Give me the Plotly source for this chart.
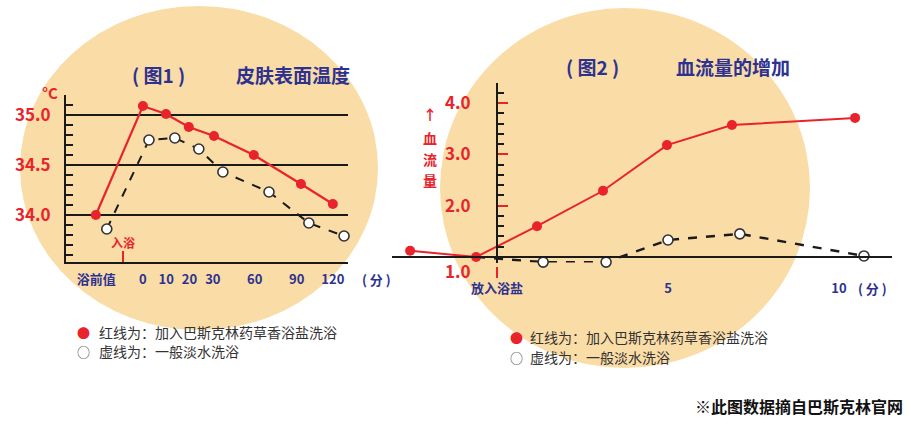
import plotly.graph_objects as go

W, H = 911, 427
RED = "#e8232b"
NAVY = "#2d3190"
BEIGE = "#fadca6"
FONT = "Noto Sans CJK SC"

# ---------------- data: chart 1 (skin surface temperature) ----------------
temp_tick_pos = [-2.0, 0.0, 1.0, 2.0, 3.0, 4.8, 6.6, 8.15]
temp_tick_labels = ["浴前值", "0", "10", "20", "30", "60", "90", "120"]
temp_red_x = [-2.02, 0.0, 0.99, 1.97, 3.05, 4.76, 6.78, 8.15]
temp_red_y = [34.0, 35.09, 35.01, 34.88, 34.79, 34.60, 34.31, 34.11]
temp_white_x = [-1.55, 0.26, 1.37, 2.40, 3.43, 5.41, 7.12, 8.63]
temp_white_y = [33.86, 34.75, 34.77, 34.66, 34.43, 34.23, 33.92, 33.79]
temp_y_ticks = [34.0, 34.5, 35.0]
temp_y_labels = ["34.0", "34.5", "35.0"]

# ---------------- data: chart 2 (blood flow increase) ----------------
flow_tick_pos = [0, 5, 10]
flow_tick_labels = ["放入浴盐", "5", "10"]
flow_red_x = [-2.54, -0.61, 1.17, 3.10, 4.97, 6.87, 10.47]
flow_red_y = [1.12, 1.0, 1.60, 2.29, 3.18, 3.57, 3.71]
flow_white_x = [-0.61, 1.35, 3.19, 5.0, 7.1, 10.73]
flow_white_y = [1.0, 0.90, 0.90, 1.33, 1.45, 1.02]
flow_y_ticks = [2.0, 3.0, 4.0]
flow_y_labels = ["2.0", "3.0", "4.0"]
flow_y_title = ["↑", "血", "流", "量"]

legend_red = "红线为：加入巴斯克林药草香浴盐洗浴"
legend_white = "虚线为：一般淡水洗浴"
footer = "※此图数据摘自巴斯克林官网"


def px(x):
    return x / W


def py(y):
    return 1 - y / H


fig = go.Figure()

# chart 1 traces
fig.add_trace(go.Scatter(x=temp_red_x, y=temp_red_y, mode="lines+markers",
                         line=dict(color=RED, width=2.2),
                         marker=dict(size=10, color=RED),
                         cliponaxis=False, xaxis="x", yaxis="y", showlegend=False))
fig.add_trace(go.Scatter(x=temp_white_x, y=temp_white_y, mode="lines+markers",
                         line=dict(color="#1a1a1a", width=2, dash="dash"),
                         marker=dict(size=10, color="white", line=dict(color="#333", width=1.6)),
                         cliponaxis=False, xaxis="x", yaxis="y", showlegend=False))

# chart 2 traces
fig.add_trace(go.Scatter(x=flow_white_x, y=flow_white_y, mode="lines+markers",
                         line=dict(color="#1a1a1a", width=2.4, dash="dash"),
                         marker=dict(size=10, color="white", line=dict(color="#333", width=1.6),
                                     opacity=[0] + [1] * (len(flow_white_x) - 1)),
                         cliponaxis=False, xaxis="x2", yaxis="y2", showlegend=False))
fig.add_trace(go.Scatter(x=flow_red_x, y=flow_red_y, mode="lines+markers",
                         line=dict(color=RED, width=2),
                         marker=dict(size=10, color=RED),
                         cliponaxis=False, xaxis="x2", yaxis="y2", showlegend=False))

ax_font = dict(family=FONT, size=13, color=NAVY, weight="bold")
ylab_font = dict(family=FONT, size=17, color=RED, weight="bold")

fig.update_layout(
    width=W, height=H,
    margin=dict(l=0, r=0, t=0, b=0),
    paper_bgcolor="white",
    plot_bgcolor="rgba(0,0,0,0)",
    font=dict(family=FONT),
    xaxis=dict(domain=[px(66), px(348)], range=[-3.30, 8.80],
               tickmode="array", tickvals=temp_tick_pos, ticktext=temp_tick_labels,
               tickfont=ax_font, ticks="outside", ticklen=4, tickcolor="rgba(0,0,0,0)",
               showline=True, linecolor="#1a1a1a", linewidth=2.2,
               showgrid=False, zeroline=False, anchor="y"),
    yaxis=dict(domain=[py(262), py(95)], range=[33.53, 35.20],
               tickmode="array", tickvals=temp_y_ticks, ticktext=temp_y_labels,
               tickfont=ylab_font, ticks="inside", ticklen=7, tickwidth=1.5, tickcolor="#1a1a1a",
               ticklabelstandoff=10,
               minor=dict(tickvals=[round(33.6 + 0.1 * i, 1) for i in range(16)],
                          ticks="inside", ticklen=7, tickwidth=1.5, tickcolor="#1a1a1a"),
               showline=True, linecolor="#1a1a1a", linewidth=2.2,
               showgrid=True, gridcolor="#1a1a1a", gridwidth=1.6,
               zeroline=False, anchor="x"),
    xaxis2=dict(domain=[px(392), px(892)], range=[-3.07, 11.55],
                tickmode="array", tickvals=flow_tick_pos, ticktext=flow_tick_labels,
                tickfont=ax_font, ticks="outside", ticklen=19, tickcolor="rgba(0,0,0,0)",
                showline=True, linecolor="#1a1a1a", linewidth=2.2,
                showgrid=False, zeroline=False, anchor="free", position=py(257)),
    yaxis2=dict(domain=[py(262.6), py(83)], range=[0.89, 4.39],
                tickmode="array", tickvals=flow_y_ticks, ticktext=flow_y_labels,
                tickfont=ylab_font, ticks="inside", ticklen=10, tickwidth=2.2, tickcolor=RED,
                ticklabelstandoff=22,
                minor=dict(tickvals=[round(1.2 + 0.2 * i, 1) for i in range(16)],
                           ticks="inside", ticklen=6, tickwidth=1.5, tickcolor="#1a1a1a"),
                showline=True, linecolor="#1a1a1a", linewidth=2.2,
                showgrid=False, zeroline=False, anchor="free", position=px(497)),
)

# background circles
fig.add_shape(type="circle", xref="paper", yref="paper", layer="below",
              x0=px(20), x1=px(378), y0=py(330), y1=py(6),
              fillcolor=BEIGE, line=dict(width=0))
fig.add_shape(type="circle", xref="paper", yref="paper", layer="below",
              x0=px(440), x1=px(810), y0=py(368), y1=py(8),
              fillcolor=BEIGE, line=dict(width=0))

# small red marker ticks
fig.add_shape(type="line", xref="paper", yref="paper",
              x0=px(123), x1=px(123), y0=py(251), y1=py(262), line=dict(color=RED, width=2))
fig.add_shape(type="line", xref="paper", yref="paper",
              x0=px(497), x1=px(497), y0=py(267), y1=py(278), line=dict(color=RED, width=2))


def ann(x, y, text, size, color, anchor="center", bold=True):
    fig.add_annotation(x=px(x), y=py(y), xref="paper", yref="paper", text=text,
                       showarrow=False, xanchor=anchor, yanchor="middle",
                       font=dict(family=FONT, size=size, color=color,
                                 weight="bold" if bold else "normal"))


# chart 1 texts
ann(158, 75, "( 图1 )", 19, NAVY)
ann(293, 75, "皮肤表面温度", 19, NAVY)
ann(50, 92, "°C", 15, RED)
ann(123, 243, "入浴", 12, RED)
ann(376, 279, "( 分 )", 13, NAVY)

# chart 2 texts
ann(592, 67, "( 图2 )", 19, NAVY)
ann(733, 67, "血流量的增加", 19, NAVY)
ann(458, 270, "1.0", 17, RED)
for ch, yy in zip(flow_y_title, [114, 138, 159, 180]):
    ann(430, yy, ch, 14, RED)
ann(872, 288, "( 分 )", 13, NAVY)

# legends
ann(83, 332, "●", 13, RED, bold=False)
ann(97, 332, legend_red, 14, "#333", anchor="left", bold=False)
ann(83, 351, "○", 13, "#444", bold=False)
ann(97, 351, legend_white, 14, "#333", anchor="left", bold=False)

ann(516, 337, "●", 13, RED, bold=False)
ann(528, 337, legend_red, 14, "#333", anchor="left", bold=False)
ann(516, 357, "○", 13, "#444", bold=False)
ann(528, 357, legend_white, 14, "#333", anchor="left", bold=False)

ann(905, 406, footer, 16, "#111", anchor="right")

fig.write_html("out.html")
